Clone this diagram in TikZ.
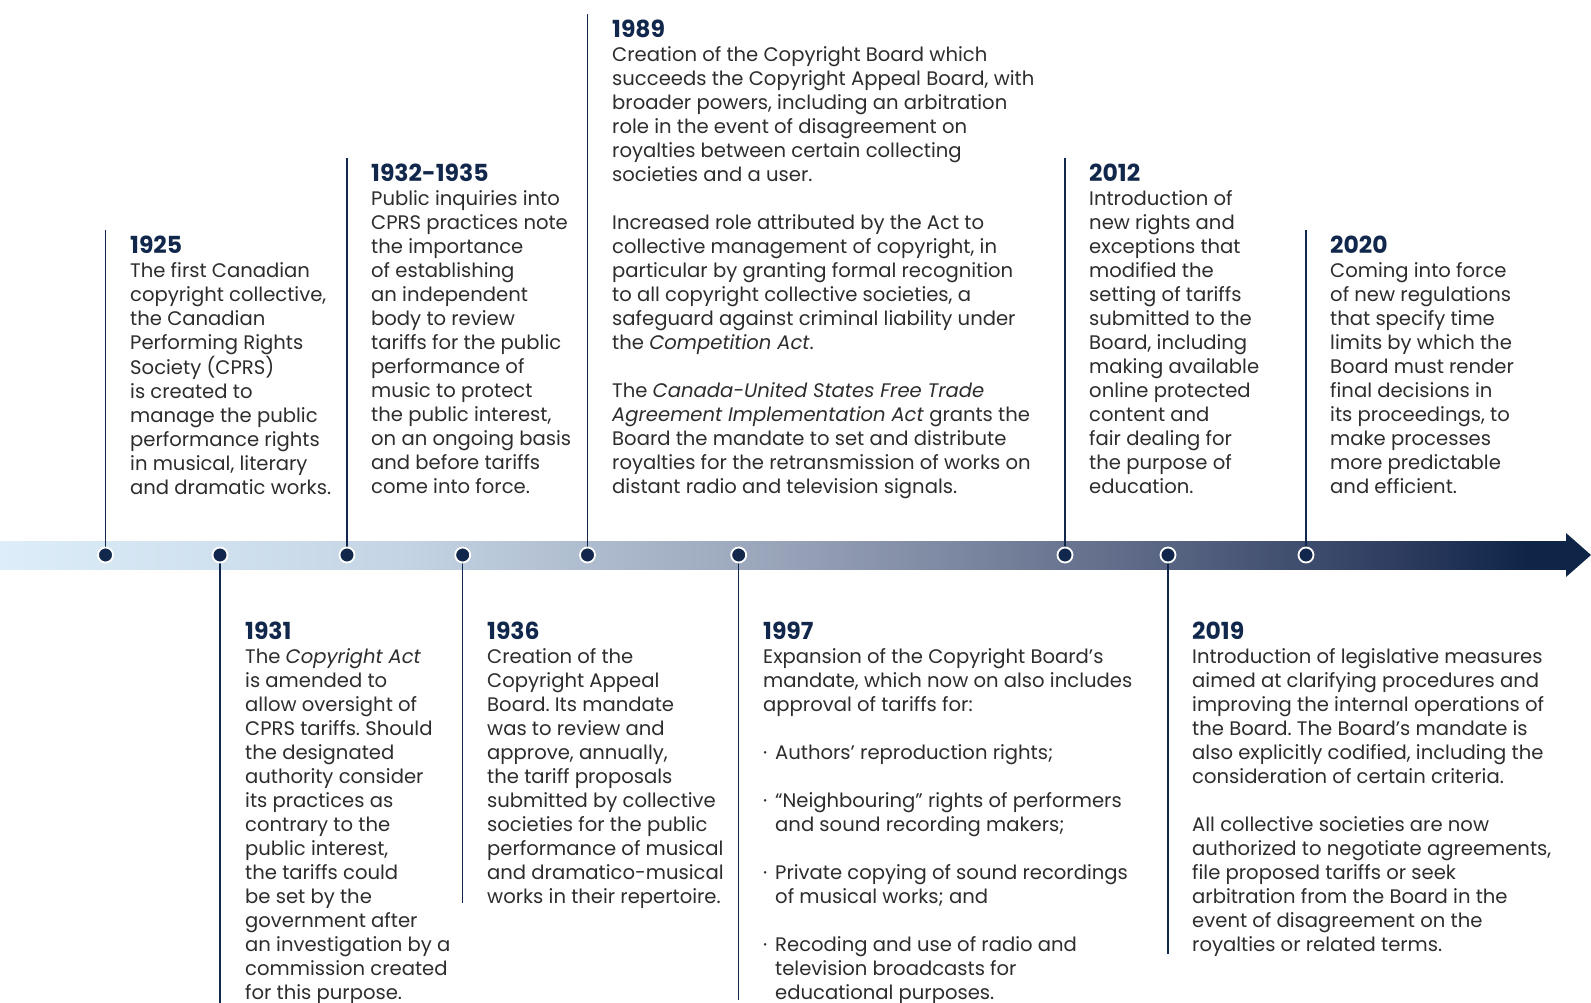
\documentclass[tikz,border=0pt]{standalone}
\usepackage{fontspec}
\setmainfont{Poppins}
\frenchspacing

\definecolor{navy}{RGB}{17,40,76}
\definecolor{bodytext}{RGB}{45,45,45}
\definecolor{barA}{RGB}{221,238,250}
\definecolor{barB}{RGB}{196,212,228}
\definecolor{barC}{RGB}{150,161,183}
\definecolor{barD}{RGB}{100,112,140}
\definecolor{barE}{RGB}{45,60,95}
\definecolor{barF}{RGB}{14,37,72}

% colour ramp of the time axis, left to right
\pgfdeclarehorizontalshading{timelinebar}{100bp}{%
  color(0bp)=(barA); color(25bp)=(barA); color(37.8bp)=(barB);
  color(50.5bp)=(barC); color(60.1bp)=(barD); color(69.7bp)=(barE);
  color(73.8bp)=(barF); color(100bp)=(barF)}

\newcommand{\yr}[1]{{\fontsize{23.5}{24}\selectfont\bfseries\color{navy}#1}}
\newcommand{\bul}{\makebox[12pt][l]{·}}
\newcommand{\bulind}{\hspace*{12pt}}

\tikzset{
  dot/.style={circle, fill=navy, draw=white, line width=1.8pt, minimum size=15pt, inner sep=0pt},
  stem/.style={draw=navy, line width=1.5pt},
  block/.style={anchor=base west, inner sep=0pt, text=bodytext,
    font=\fontsize{19.6}{24}\selectfont},
}

\begin{document}
\begin{tikzpicture}[x=1pt, y=-1pt]
\useasboundingbox (0,0) rectangle (1591,1003);
\fill[white] (0,0) rectangle (1591,1003);

% time axis with arrow head
\shade[shading=timelinebar] (0,541) rectangle (1566,569);
\fill[barF] (1566,533) -- (1591,555) -- (1566,577) -- cycle;

% free ends of the stems
\coordinate (t1925) at (105.5,230.3);
\coordinate (t1931) at (220,1003);
\coordinate (t1932) at (347,158.3);
\coordinate (t1936) at (462.7,903);
\coordinate (t1989) at (587.5,14.2);
\coordinate (t1997) at (738.7,999.5);
\coordinate (t2012) at (1065,158.3);
\coordinate (t2019) at (1168,954);
\coordinate (t2020) at (1306,230.3);

% markers on the axis
\path (105.5,555) coordinate (p1925) (220,555) coordinate (p1931)
      (347,555) coordinate (p1932) (462.7,555) coordinate (p1936)
      (587.5,555) coordinate (p1989) (738.7,555) coordinate (p1997)
      (1065,555) coordinate (p2012) (1168,555) coordinate (p2019)
      (1306,555) coordinate (p2020);

\foreach \y in {1925,1931,1932,1936,1989,1997,2012,2019,2020}{
  \draw[stem] (t\y) -- (p\y);
}
\foreach \y in {1925,1931,1932,1936,1989,1997,2012,2019,2020}{
  \node[dot] (d\y) at (p\y) {};
}

% events above the axis
\node[block] (b1925) at (130,253.3) {\begin{tabular}[t]{@{}l@{}}
\yr{1925}\\
The first Canadian\\
copyright collective,\\
the Canadian\\
Performing Rights\\
Society (CPRS)\\
is created to\\
manage the public\\
performance rights\\
in musical, literary\\
and dramatic works.
\end{tabular}};

\node[block] (b1932) at (371,181.3) {\begin{tabular}[t]{@{}l@{}}
\yr{1932-1935}\\
Public inquiries into\\
CPRS practices note\\
the importance\\
of establishing\\
an independent\\
body to review\\
tariffs for the public\\
performance of\\
music to protect\\
the public interest,\\
on an ongoing basis\\
and before tariffs\\
come into force.
\end{tabular}};

\node[block] (b1989) at (612,37.3) {\begin{tabular}[t]{@{}l@{}}
\yr{1989}\\
Creation of the Copyright Board which\\
succeeds the Copyright Appeal Board, with\\
broader powers, including an arbitration\\
role in the event of disagreement on\\
royalties between certain collecting\\
societies and a user.\\
\\
Increased role attributed by the Act to\\
collective management of copyright, in\\
particular by granting formal recognition\\
to all copyright collective societies, a\\
safeguard against criminal liability under\\
the \textit{Competition Act}.\\
\\
The \textit{Canada-United States Free Trade}\\
\textit{Agreement Implementation Act} grants the\\
Board the mandate to set and distribute\\
royalties for the retransmission of works on\\
distant radio and television signals.
\end{tabular}};

\node[block] (b2012) at (1089,181.3) {\begin{tabular}[t]{@{}l@{}}
\yr{2012}\\
Introduction of\\
new rights and\\
exceptions that\\
modified the\\
setting of tariffs\\
submitted to the\\
Board, including\\
making available\\
online protected\\
content and\\
fair dealing for\\
the purpose of\\
education.
\end{tabular}};

\node[block] (b2020) at (1330,253.3) {\begin{tabular}[t]{@{}l@{}}
\yr{2020}\\
Coming into force\\
of new regulations\\
that specify time\\
limits by which the\\
Board must render\\
final decisions in\\
its proceedings, to\\
make processes\\
more predictable\\
and efficient.
\end{tabular}};

% events below the axis
\node[block] (b1931) at (245,639.6) {\begin{tabular}[t]{@{}l@{}}
\yr{1931}\\
The \textit{Copyright Act}\\
is amended to\\
allow oversight of\\
CPRS tariffs. Should\\
the designated\\
authority consider\\
its practices as\\
contrary to the\\
public interest,\\
the tariffs could\\
be set by the\\
government after\\
an investigation by a\\
commission created\\
for this purpose.
\end{tabular}};

\node[block] (b1936) at (487,639.6) {\begin{tabular}[t]{@{}l@{}}
\yr{1936}\\
Creation of the\\
Copyright Appeal\\
Board. Its mandate\\
was to review and\\
approve, annually,\\
the tariff proposals\\
submitted by collective\\
societies for the public\\
performance of musical\\
and dramatico-musical\\
works in their repertoire.
\end{tabular}};

\node[block] (b1997) at (763,639.6) {\begin{tabular}[t]{@{}l@{}}
\yr{1997}\\
Expansion of the Copyright Board’s\\
mandate, which now on also includes\\
approval of tariffs for:\\
\\
\bul Authors’ reproduction rights;\\
\\
\bul “Neighbouring” rights of performers\\
\bulind and sound recording makers;\\
\\
\bul Private copying of sound recordings\\
\bulind of musical works; and\\
\\
\bul Recoding and use of radio and\\
\bulind television broadcasts for\\
\bulind educational purposes.
\end{tabular}};

\node[block] (b2019) at (1192,639.6) {\begin{tabular}[t]{@{}l@{}}
\yr{2019}\\
Introduction of legislative measures\\
aimed at clarifying procedures and\\
improving the internal operations of\\
the Board. The Board’s mandate is\\
also explicitly codified, including the\\
consideration of certain criteria.\\
\\
All collective societies are now\\
authorized to negotiate agreements,\\
file proposed tariffs or seek\\
arbitration from the Board in the\\
event of disagreement on the\\
royalties or related terms.
\end{tabular}};
\end{tikzpicture}
\end{document}
